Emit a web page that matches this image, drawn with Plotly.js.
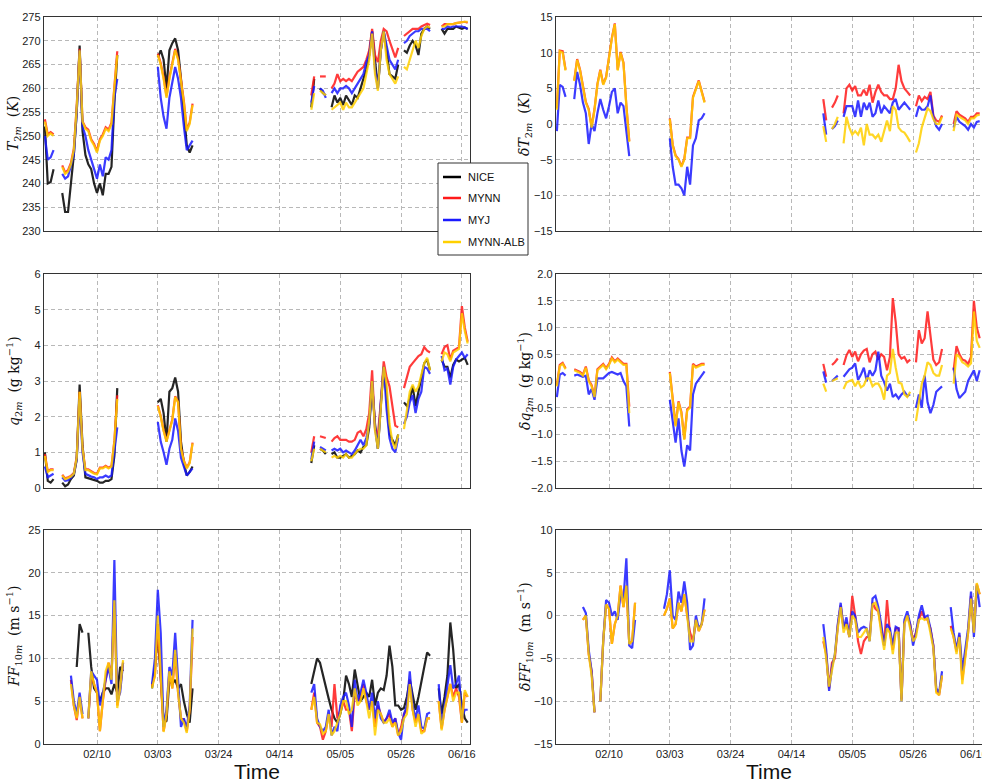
<!DOCTYPE html>
<html>
<head>
<meta charset="utf-8">
<script src="https://cdn.plot.ly/plotly-3.0.1.min.js"></script>
<style>html,body{margin:0;padding:0;background:#fff;}#chart{width:982px;height:782px;}</style>
</head>
<body>
<div id="chart"></div>
<script>
const _ = null;
// Day-of-year offsets (days after 1 Jan) covered by each data block
const blocks = [[22, 49], [59, 74], [113, 168]];
const tickDays = [40, 61, 82, 103, 124, 145, 166];
const tickLabels = ['02/10', '03/03', '03/24', '04/14', '05/05', '05/26', '06/16'];
const models = ['NICE', 'MYNN', 'MYJ', 'MYNN-ALB'];
const colors = ['#000000', '#ff1a1a', '#1a1aff', '#ffd000'];

// ---------- T2m (K) ----------
const T_NICE = [252,240,240.3,243,_,_,238,234,234,240,246,255,269,251,246,244,243,240,238,240,237.5,242,242,243.5,257,267,_,_,
  _,_,266.5,268,266,260,268,269.5,270.5,268,262,255,248,246.5,248,_,
  _,256,262,_,260,259,258.5,_,256,258.5,257,258,256.5,258.5,257.5,256.5,258.5,258,260,262,264,267,272,266,260,268,272,268,263,262.5,262,265,_,268,267.5,269,270,269,267,271.5,272.5,273,272.5,_,_,_,272.5,271.5,272.5,272.5,272.5,273,272.8,272.5,272.8,272.5];
const T_MYNN = [253.5,250.3,250.8,250.3,_,_,243.8,242.3,242.8,244.3,247.3,256.3,268.3,253,251.8,251.3,249.3,248.3,246.8,249.3,250.3,251.8,251.3,252.8,260.3,267.8,_,_,
  _,_,267.3,265.3,262.3,258.3,262.3,265.3,268.3,266.3,262.3,257.3,251.3,252.8,256.8,_,
  _,258.5,262.5,_,262.5,262.5,262.5,_,260,261,263,261.5,262,261.5,262,261.5,262.5,263.5,264,264.5,266,268,272.5,267,265.5,270,272.5,272,270,268,266.5,268.5,_,271,271.5,272,272.5,272.5,272.5,273,273.3,273.6,273.3,_,_,_,273,273.5,273.5,273.5,273.5,273.7,273.8,274,274,273.8];
const T_MYJ = [250,245,245.5,247,_,_,242,241,241.5,243.5,246,255,268,252,250,247,245,243,241,244,241.5,245.5,245,247,258,262,_,_,
  _,_,264.5,258,254,251.5,258,261,264.5,262,258,252,247,248,249,_,
  _,257,260.5,_,260,259.5,258,_,259,260,259,260,260,260.5,260,259,260,261,262,263,265.5,267,272,264,260,268,272,269,266,265,264,266,_,269.5,270,271,271.5,272,272,272.5,272.5,272.5,272,_,_,_,272.5,272.5,273,272.8,273,273,273,273,272.8,272.5];
const T_ALB = [253,250,250.5,250,_,_,243.5,242,242.5,244,247,256,268,253,251.5,251,249,248,246.5,249,250,251.5,251,252.5,260,267,_,_,
  _,_,267,265,262,258,262,265,268,266,262,257,251,252.5,256.5,_,
  _,255.5,259,_,259.5,259,258.5,_,255.5,256,256.5,257,255.5,257,256,256,257,258,259,260,263,266,271.5,263,259.5,268,272,266,263,262,261,262.5,_,264.5,264,266,268,270,268.5,271,272.5,273,272.8,_,_,_,273,273,273.5,273.5,273.5,273.7,273.8,274,274,274];

// ---------- q2m (g/kg) ----------
const Q_NICE = [1.0,0.2,0.15,0.25,_,_,0.15,0.05,0.1,0.25,0.35,0.8,2.9,1.2,0.3,0.28,0.25,0.22,0.2,0.15,0.15,0.2,0.2,0.25,0.9,2.8,_,_,
  _,_,2.4,2.5,2.1,1.3,2.7,2.8,3.1,2.7,1.3,0.7,0.35,0.45,0.6,_,
  _,0.7,1.2,_,1.1,1.05,0.95,_,0.95,1.0,0.85,0.85,0.9,0.95,0.85,0.9,0.95,1.05,1.0,1.15,1.2,1.7,2.9,1.8,1.1,2.3,3.4,2.6,1.5,1.35,1.2,1.5,_,2.4,2.3,2.5,2.85,2.3,2.7,3.1,3.5,3.6,3.3,_,_,_,3.6,3.4,3.4,3.1,3.45,3.6,3.55,3.6,3.65,3.45];
const Q_MYNN = [0.95,0.47,0.52,0.52,_,_,0.37,0.27,0.3,0.34,0.42,0.87,2.7,1.1,0.52,0.52,0.47,0.42,0.4,0.57,0.57,0.62,0.57,0.62,1.32,2.6,_,_,
  _,_,2.32,2.02,1.62,1.32,1.62,1.92,2.57,2.42,1.12,0.77,0.57,0.72,1.27,_,
  _,1.0,1.45,_,1.45,1.42,1.4,_,1.3,1.4,1.45,1.35,1.35,1.35,1.3,1.3,1.35,1.55,1.6,1.45,1.65,2.1,3.3,1.65,1.5,2.4,3.55,3.1,2.85,2.3,1.75,1.7,_,2.8,3.1,3.4,3.5,3.6,3.7,3.75,3.95,3.85,3.8,_,_,_,3.75,3.95,4.0,3.6,3.85,3.9,3.95,5.1,4.5,4.1];
const Q_MYJ = [0.6,0.3,0.35,0.4,_,_,0.3,0.2,0.22,0.28,0.4,0.8,2.5,1.0,0.4,0.35,0.32,0.3,0.25,0.3,0.3,0.35,0.3,0.35,1.0,1.7,_,_,
  _,_,1.85,1.3,1.0,0.65,1.1,1.35,1.95,1.6,0.85,0.6,0.35,0.45,0.55,_,
  _,0.8,1.3,_,1.15,1.1,1.05,_,1.05,1.1,1.05,1.1,1.0,1.05,1.0,0.95,1.05,1.2,1.35,1.2,1.4,1.8,3.0,1.7,1.1,2.4,3.4,2.2,1.4,1.1,1.0,1.4,_,1.8,2.0,2.4,2.6,2.1,2.5,2.7,3.4,3.35,3.2,_,_,_,3.7,3.3,3.35,2.9,3.4,3.6,3.7,3.8,3.65,3.75];
const Q_ALB = [0.9,0.45,0.5,0.5,_,_,0.35,0.25,0.28,0.32,0.4,0.85,2.7,1.1,0.5,0.5,0.45,0.4,0.38,0.55,0.55,0.6,0.55,0.6,1.3,2.5,_,_,
  _,_,2.3,2.0,1.6,1.3,1.6,1.9,2.55,2.4,1.1,0.75,0.55,0.7,1.25,_,
  _,0.75,1.1,_,1.1,1.05,1.0,_,0.85,0.9,0.85,0.9,0.85,0.95,0.85,0.85,0.95,1.05,1.1,1.1,1.2,1.9,3.0,1.6,1.1,2.2,3.4,2.9,1.8,1.3,1.1,1.5,_,1.65,2.2,2.7,2.9,2.7,2.85,3.2,3.5,3.65,3.3,_,_,_,3.55,3.8,3.75,3.55,3.8,3.85,3.9,4.9,4.4,4.05];

// ---------- FF10m (m/s) ----------
const F_NICE = [_,_,_,_,_,_,_,_,_,_,_,9,14,13,_,13,9,6.5,6,5,6,6.5,6.5,5.8,7,6,9,8.5,
  6.5,9,13,8,2.5,2.7,7.5,7,7.5,6.5,7,5,3.5,2.5,6.5,_,
  _,7,8.5,10,9.5,8,6.5,5.3,4,3,2.5,3.5,5,8,7,5.5,8.7,7,5,5.5,6,5.5,7.5,4.5,6,6.5,6.3,8,11.5,9,4.5,4.5,4,4.2,5.5,7.5,5.5,4,5.5,7.5,9,10.7,10.3,_,_,6.5,3.5,5.5,8,14.2,11,6.5,7,4.5,3,2.5];
const F_MYNN = [_,_,_,_,_,_,_,_,_,7.5,4.5,2.8,5.5,3,_,3,8,7,6,1.5,5,7.5,9.5,8,16.5,4.5,6.5,9.5,
  6.8,8,14,8,1.5,3.5,8.5,6.5,10.5,6,3,2.8,1.5,4,12.5,_,
  _,4,6,2.5,2,0.5,1.5,3.5,2,7,3,4,5,4,4,1.5,6,5,5.5,7,5,4,5,2,4.5,3.5,2.5,3,3.5,2,3,1,2,3.5,4,7.5,4,2.5,3.5,1.5,1.5,3,3,_,_,5,1.8,4,5.5,7,5.5,6.5,5.5,2.5,6,5.5];
const F_MYJ = [_,_,_,_,_,_,_,_,_,8,5,3.5,6,3.5,_,3,8.5,8,7.5,4.5,6,7.5,9,7,21.5,5,6,9.5,
  7,10,18,13,2,4,9,8,13,7,2,3,1.8,4.5,14.5,_,
  _,6,7,3,2,1.5,2,4,1,2,1.5,4.5,5.5,6,4.5,2,7.5,5,6,7.5,6,4,6,3,5,3,2.5,3,4,2.5,3,1.3,0.5,3.5,4.5,8.5,4.5,3,4.5,2,1.8,3.5,3.7,_,_,7,2.2,4.5,7,9.2,6.5,7,8,3,4,4];
const F_ALB = [_,_,_,_,_,_,_,_,_,7,4.5,3,5.5,3,_,3,8.5,7,6,1.5,5,8.5,9.5,7.5,16.8,4.2,6.5,9.8,
  6.5,8,15,8,1.4,3.5,8.5,6.5,11,6,3,2.5,1.3,4,13.5,_,
  _,4,5.5,2.5,2.3,1.2,1.5,3.5,1,1.5,2.5,3.5,5,5,3.5,4,6.5,4.5,5,6.5,5,3,5,1,4,3.5,2.5,2.5,3,2,2.5,1,1.5,3,3.5,7,4,2,3.5,1.2,1.5,3,3,_,_,5,1.6,4,5.5,7,5,6,6,2.5,6.3,5.5];

// ---------- dT2m (K) ----------
const dT_MYNN = [2.2,10.3,10.2,7.6,_,_,6.1,9.1,7.6,5.1,3.1,2.1,-0.4,2.1,5.6,7.6,5.6,6.6,9.6,12.1,14.1,7.6,10.1,8.6,2.6,-2.4,_,_,
  _,_,0.8,-2.9,-4.4,-4.9,-5.9,-4.9,-1.9,-1.9,3.8,5.1,6.1,4.6,3.1,_,
  _,3.5,0.5,_,2.3,3,4,_,1.5,5,5.5,4.7,5.3,4,4,4.8,4,5.5,3,4.5,5.5,4.5,4,4,3.5,3.5,5,8.3,6,5,4.5,4,_,2.5,4,3.2,3.8,3.5,4.5,1.2,0.5,0.3,1.2,_,_,_,0,1.8,1.3,1,0.8,0.3,1,1,1.5,1.5];
const dT_MYJ = [-1,5.5,5.2,3.8,_,_,3.5,7.3,5.5,3,1.5,-2.8,0,-1,1.5,3.5,2,0.8,2.5,4.5,5,1.5,3,2.5,-1,-4.5,_,_,
  _,_,-2,-6,-8.5,-8.5,-9,-10,-6,-8.5,-3,-2,0.5,0.8,1.5,_,
  _,1.5,-1.5,_,-0.7,-0.3,0.5,_,1,2.5,2.5,2.5,1,3.3,1,3,2,3,1,1.5,3.3,1.5,2.5,2,1.5,3,3.5,2,2.5,3,2.5,2,_,1,2.5,2,2,2.5,4,1,-0.3,-0.8,0,_,_,_,-0.5,1,0.3,0,-0.3,-0.8,0,-0.5,0.3,0.4];
const dT_ALB = [2,10.2,10,7.5,_,_,6,9,7.5,5,3,2,-0.5,2,5.5,7.5,5.5,6.5,9.5,12,14,7.5,10,8.5,2.5,-2.5,_,_,
  _,_,0.7,-3,-4.5,-5,-6,-5,-2,-2,3.7,5,6,4.5,3,_,
  _,-0.3,-2.5,_,-0.7,0,1,_,-2.7,1,-0.5,-1.5,-1,-1.5,-0.5,-3,0,-1.5,-1.5,-2,-1.5,-2.5,-1,0.5,-1,2.5,2,-0.5,-1,-1.2,-1.8,-2.5,_,-4,-2.7,-0.5,1,2.2,1.8,0.7,0,0,1,_,_,_,-1,1.3,1,0.8,0.5,0,0.8,0.8,1.2,1.3];

// ---------- dq2m (g/kg) ----------
const dQ_MYNN = [-0.08,0.3,0.34,0.24,_,_,0.22,0.19,0.17,0.12,0.27,0.02,-0.08,-0.28,0.22,0.27,0.32,0.24,0.32,0.44,0.37,0.42,0.37,0.32,0.32,-0.48,_,_,
  _,_,0.17,-0.28,-0.83,-0.38,-0.58,-1.08,-0.53,-0.48,0.32,0.27,0.3,0.32,0.32,_,
  _,0.32,0.08,_,0.3,0.35,0.42,_,0.3,0.48,0.58,0.45,0.55,0.37,0.5,0.57,0.6,0.35,0.5,0.55,0.4,0.5,0.45,0.2,0.45,1.55,1.1,0.5,0.42,0.45,0.35,0.4,_,0.35,0.95,0.7,0.8,1.3,0.85,0.4,0.3,0.35,0.6,_,_,_,0.2,0.65,0.5,0.4,0.38,0.32,0.45,1.5,1.0,0.8];
const dQ_MYJ = [-0.3,0.12,0.15,0.1,_,_,0.1,0.12,0.1,0.08,0.1,-0.25,-0.15,-0.35,0.05,0.05,0.05,0.1,0.15,0.17,0.15,0.12,0.15,0,-0.1,-0.85,_,_,
  _,_,-0.35,-0.8,-1.15,-0.7,-1.3,-1.6,-1.2,-1.3,-0.25,-0.05,0.03,0.1,0.18,_,
  _,0.18,-0.03,_,0,0.05,0.1,_,0.08,0.16,0.22,0.25,0.33,0.02,0.12,0.25,0,0.2,0.1,0.2,0.55,0.1,-0.02,-0.18,-0.05,-0.3,-0.25,-0.33,-0.25,-0.2,-0.28,-0.25,_,-0.5,-0.25,-0.5,0.1,-0.4,-0.6,-0.45,-0.2,-0.15,-0.1,_,_,_,0.25,-0.15,-0.32,-0.25,-0.2,0,0.1,0.2,0,0.2];
const dQ_ALB = [-0.1,0.28,0.32,0.22,_,_,0.2,0.17,0.15,0.1,0.25,0,-0.1,-0.3,0.2,0.25,0.3,0.22,0.3,0.42,0.35,0.4,0.35,0.3,0.3,-0.6,_,_,
  _,_,0.15,-0.3,-0.85,-0.4,-0.6,-1.1,-0.55,-0.5,0.3,0.25,0.28,0.3,0.3,_,
  _,-0.05,-0.2,_,0,0.02,0.05,_,-0.15,-0.03,0,0.02,-0.1,0,-0.12,-0.08,0.05,0.05,-0.1,-0.05,-0.05,-0.15,-0.35,0.1,0.15,0.6,0.25,-0.03,-0.05,-0.25,-0.3,-0.2,_,-0.75,-0.35,-0.05,0.1,0.35,0.3,0.15,0.1,0.1,0.3,_,_,_,-0.05,0.5,0.45,0.35,0.32,0.27,0.33,1.3,0.75,0.62];

// ---------- dFF10m (m/s) ----------
const dF_MYNN = [_,_,_,_,_,_,_,_,_,-0.5,0,-4.5,-6.5,-11.3,_,-10,-3,1.3,0.8,-3.3,-1,0,3.5,1,3.5,-3.3,-3,1.5,
  0,0.8,2,-1.5,-1,1.5,0.5,2.5,0,-2,-3,-0.5,-1.8,-1,0.7,_,
  _,-3,-4.5,-8.5,-5.5,-5,-1.2,1.2,-1.5,-0.8,-2.5,2.3,0,-3,-4.5,-3,-2.5,-2.5,1.5,0.8,0.5,-1.5,-3.5,1.8,-2,-4,-1.5,-1.5,-9.8,-0.8,0,-1,-3,-2,-0.5,0.5,-0.3,-0.5,-1.5,-3.5,-8.8,-9.3,-7,_,_,-1.2,-2.5,-4.2,-2.3,-7.5,-4.8,-2,2.3,-2,3.7,2.5];
const dF_MYJ = [_,_,_,_,_,_,_,_,_,1,0.3,-4,-6.5,-11.3,_,-10,-3,1.8,1.5,0,0.5,-0.5,2.5,2,6.7,-3.5,-3.8,-0.5,
  0.8,2.5,5.3,0,-0.5,2.8,1.5,4,1.5,-4,-3.5,0,-1.5,-1,2,_,
  _,-1,-4,-8.8,-6,-4.5,-1,1.5,-1.5,-0.2,-2.5,0.5,0,-2,-1.5,-1.3,-1.5,-3,2,2.3,1,-1,-3.5,-1,-1.5,-3.5,-1.3,-1.5,-10,-0.5,0.5,-1,-3.5,-2,0,1.2,-0.2,0,-1.5,-3.5,-8.5,-9,-6.5,_,_,1,-2,-4,-2,-6.5,-4,-1.5,2.8,-2.5,3.5,1];
const dF_ALB = [_,_,_,_,_,_,_,_,_,-0.5,0,-4.5,-7,-11.3,_,-10,-3,1.3,0.8,-3.3,-1,0,3.5,1,3.5,-3.3,-3,1.5,
  0,0.8,2,-1.5,-1,1.5,0.5,2.5,0,-3,-3,-0.5,-1.8,-1,0.7,_,
  _,-2.5,-5,-8.3,-6.5,-4.5,-1.5,1,-2,-1,-2.5,0,-0.5,-2.5,-2.5,-2,-1.5,-3,1.3,1.5,0.5,-2,-4,-1.5,-2,-4.5,-2,-2,-10,-1,0,-1.5,-3,-2.5,-0.5,-0.3,-0.5,-0.3,-2,-3.8,-9,-9.3,-7,_,_,-1.5,-2.5,-4.5,-2.5,-8,-5,-2,2,-2,3.8,2.5];

// ---------- helpers ----------
function iso(d) {
  const t = new Date(Date.UTC(2015, 0, 1) + d * 86400000);
  return t.toISOString().slice(0, 16).replace('T', ' ');
}
const nExpected = blocks.reduce((s, b) => s + b[1] - b[0] + 1, 0);
const X = [];
blocks.forEach(([a, b], i) => {
  if (i > 0) X.push(iso((blocks[i - 1][1] + a) / 2));
  for (let d = a; d <= b; d++) X.push(iso(d));
});
function Y(vals, label) {
  if (vals.length !== nExpected) console.error('length mismatch', label, vals.length, nExpected);
  const ys = []; let k = 0;
  blocks.forEach(([a, b], i) => {
    if (i > 0) ys.push(null);
    for (let d = a; d <= b; d++) ys.push(vals[k++]);
  });
  return ys;
}

const W = 982, H = 782;
const px = v => v / W, py = v => (H - v) / H;
const xL = [px(44), px(470)], xR = [px(556), 1];
const yTop = [py(231), py(17)];
const yMid = [py(488), py(274)];
const yBot = [py(744), py(530)];

const panels = [
  {ax: '',  xd: xL, yd: yTop, range: [230, 275], dtick: 5, series: [T_NICE, T_MYNN, T_MYJ, T_ALB], labels: false,
   title: '<i>T</i><sub>2<i>m</i></sub>  (<i>K</i>)', tx: 14},
  {ax: '2', xd: xR, yd: yTop, range: [-15, 15], dtick: 5, series: [null, dT_MYNN, dT_MYJ, dT_ALB], labels: false,
   title: '<i>δT</i><sub>2<i>m</i></sub>  (<i>K</i>)', tx: 525},
  {ax: '3', xd: xL, yd: yMid, range: [0, 6], dtick: 1, series: [Q_NICE, Q_MYNN, Q_MYJ, Q_ALB], labels: false,
   title: '<i>q</i><sub>2<i>m</i></sub>  (g kg<sup>−1</sup>)', tx: 14},
  {ax: '4', xd: xR, yd: yMid, range: [-2, 2], dtick: 0.5, fmt: '.1f', series: [null, dQ_MYNN, dQ_MYJ, dQ_ALB], labels: false,
   title: '<i>δq</i><sub>2<i>m</i></sub>  (g kg<sup>−1</sup>)', tx: 525},
  {ax: '5', xd: xL, yd: yBot, range: [0, 25], dtick: 5, series: [F_NICE, F_MYNN, F_MYJ, F_ALB], labels: true,
   title: '<i>FF</i><sub>10<i>m</i></sub>  (m s<sup>−1</sup>)', tx: 14},
  {ax: '6', xd: xR, yd: yBot, range: [-15, 10], dtick: 5, series: [null, dF_MYNN, dF_MYJ, dF_ALB], labels: true,
   title: '<i>δFF</i><sub>10<i>m</i></sub>  (m s<sup>−1</sup>)', tx: 525}
];

const sansFamily = 'Liberation Sans, Arial, sans-serif';
const tickFont = {family: sansFamily, size: 11, color: '#222'};
const gridStyle = {showgrid: true, gridcolor: '#b8b8b8', gridwidth: 1, griddash: '4px,3px',
  showline: true, mirror: true, linecolor: '#333', linewidth: 1.2, zeroline: false, ticks: '',
  tickfont: tickFont, ticklabeloverflow: 'allow'};

const traces = [];
const layout = {
  width: W, height: H, margin: {l: 0, r: 0, t: 0, b: 0},
  paper_bgcolor: '#fff', plot_bgcolor: '#fff', showlegend: false,
  annotations: [], shapes: []
};

panels.forEach((p, pi) => {
  const xa = 'xaxis' + p.ax, ya = 'yaxis' + p.ax;
  layout[xa] = Object.assign({}, gridStyle, {
    domain: p.xd, anchor: 'y' + p.ax, type: 'date',
    range: [iso(21.7), iso(168.8)],
    tickmode: 'array', tickvals: tickDays.map(iso), ticktext: tickLabels,
    showticklabels: p.labels
  });
  layout[ya] = Object.assign({}, gridStyle, {
    domain: p.yd, anchor: 'x' + p.ax, range: p.range, dtick: p.dtick, tick0: p.range[0],
    tickformat: p.fmt || ''
  });
  p.series.forEach((s, i) => {
    if (!s) return;
    traces.push({
      type: 'scatter', mode: 'lines', x: X, y: Y(s, models[i] + pi),
      xaxis: 'x' + p.ax, yaxis: 'y' + p.ax, name: models[i], legendgroup: models[i],
      opacity: 0.85, hoverinfo: 'skip',
      line: {color: colors[i], width: 2.2}
    });
  });
  layout.annotations.push({
    xref: 'paper', yref: 'paper', x: px(p.tx), y: (p.yd[0] + p.yd[1]) / 2,
    xanchor: 'center', yanchor: 'middle', textangle: -90, showarrow: false,
    text: p.title, font: {family: 'DejaVu Serif, Liberation Serif, serif', size: 14, color: '#111'}
  });
});

// Legend box (drawn as a framed key so its size matches the original figure)
const legendBox = {x0: 438, x1: 528, y0: 163, y1: 255};
const legendRows = [177, 198, 220, 242];
layout.shapes.push({type: 'rect', xref: 'paper', yref: 'paper', layer: 'above',
  x0: px(legendBox.x0), x1: px(legendBox.x1), y0: py(legendBox.y1), y1: py(legendBox.y0),
  fillcolor: '#ffffff', line: {color: '#333', width: 1}});
models.forEach((m, i) => {
  layout.shapes.push({type: 'line', xref: 'paper', yref: 'paper', layer: 'above',
    x0: px(443), x1: px(461), y0: py(legendRows[i]), y1: py(legendRows[i]),
    line: {color: colors[i], width: 2.5}});
  layout.annotations.push({xref: 'paper', yref: 'paper', x: px(466), y: py(legendRows[i]),
    xanchor: 'left', yanchor: 'middle', showarrow: false, text: m,
    font: {family: sansFamily, size: 11, color: '#111'}});
});

[257, 769].forEach(cx => layout.annotations.push({
  xref: 'paper', yref: 'paper', x: px(cx), y: py(771), xanchor: 'center', yanchor: 'middle',
  showarrow: false, text: 'Time',
  font: {family: sansFamily, size: 21, color: '#111'}
}));

Plotly.newPlot('chart', traces, layout, {staticPlot: true, displayModeBar: false});
</script>
</body>
</html>
